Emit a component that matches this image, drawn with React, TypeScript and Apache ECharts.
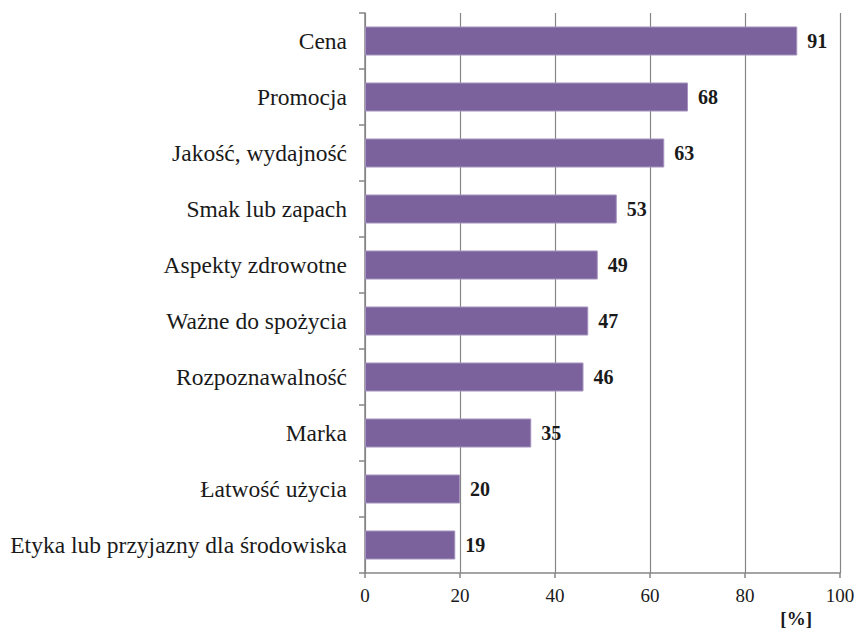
import React, { useEffect, useRef } from "react";
import * as echarts from "echarts";

const categories = [
  "Cena",
  "Promocja",
  "Jakość, wydajność",
  "Smak lub zapach",
  "Aspekty zdrowotne",
  "Ważne do spożycia",
  "Rozpoznawalność",
  "Marka",
  "Łatwość użycia",
  "Etyka lub przyjazny dla środowiska",
];
const values = [91, 68, 63, 53, 49, 47, 46, 35, 20, 19];
const xTicks = { min: 0, max: 100, interval: 20 };
const unitLabel = "[%]";

const FONT = "'Liberation Serif', 'Times New Roman', serif";

export default function App() {
  const ref = useRef<HTMLDivElement>(null);
  useEffect(() => {
    if (!ref.current) return;
    const chart = echarts.init(ref.current, null, { renderer: "svg" });
    const cats = [...categories].reverse();
    const vals = [...values].reverse();
    chart.setOption({
      animation: false,
      grid: { left: 365, right: 18, top: 13, bottom: 58, containLabel: false },
      xAxis: {
        type: "value",
        min: xTicks.min,
        max: xTicks.max,
        interval: xTicks.interval,
        axisLine: { show: true, lineStyle: { color: "#868686", width: 1.5 } },
        axisTick: { show: true, length: 5, lineStyle: { color: "#868686", width: 1.5 } },
        splitLine: { show: true, lineStyle: { color: "#868686", width: 1.2 } },
        axisLabel: { fontFamily: FONT, fontSize: 19, color: "#1a1a1a", margin: 13 },
      },
      yAxis: {
        type: "category",
        data: cats,
        axisLine: { show: true, lineStyle: { color: "#868686", width: 1.5 } },
        axisTick: { show: true, length: 6, lineStyle: { color: "#868686", width: 1.5 } },
        axisLabel: { fontFamily: FONT, fontSize: 23.5, color: "#1a1a1a", margin: 18 },
      },
      graphic: [
        {
          type: "text",
          right: 46,
          top: 609,
          style: {
            text: unitLabel,
            fontFamily: FONT,
            fontSize: 19,
            fontWeight: "bold",
            fill: "#1a1a1a",
          },
        },
      ],
      series: [
        {
          type: "bar",
          data: vals,
          barWidth: 29,
          itemStyle: { color: "#7B629C", borderColor: "#A592BE", borderWidth: 1 },
          label: {
            show: true,
            position: "right",
            distance: 10,
            fontFamily: FONT,
            fontSize: 20,
            fontWeight: "bold",
            color: "#1a1a1a",
          },
        },
      ],
    });
    return () => chart.dispose();
  }, []);
  return (
    <div
      ref={ref}
      style={{ position: "fixed", left: 0, top: 0, width: 858, height: 631, background: "#fff" }}
    />
  );
}
